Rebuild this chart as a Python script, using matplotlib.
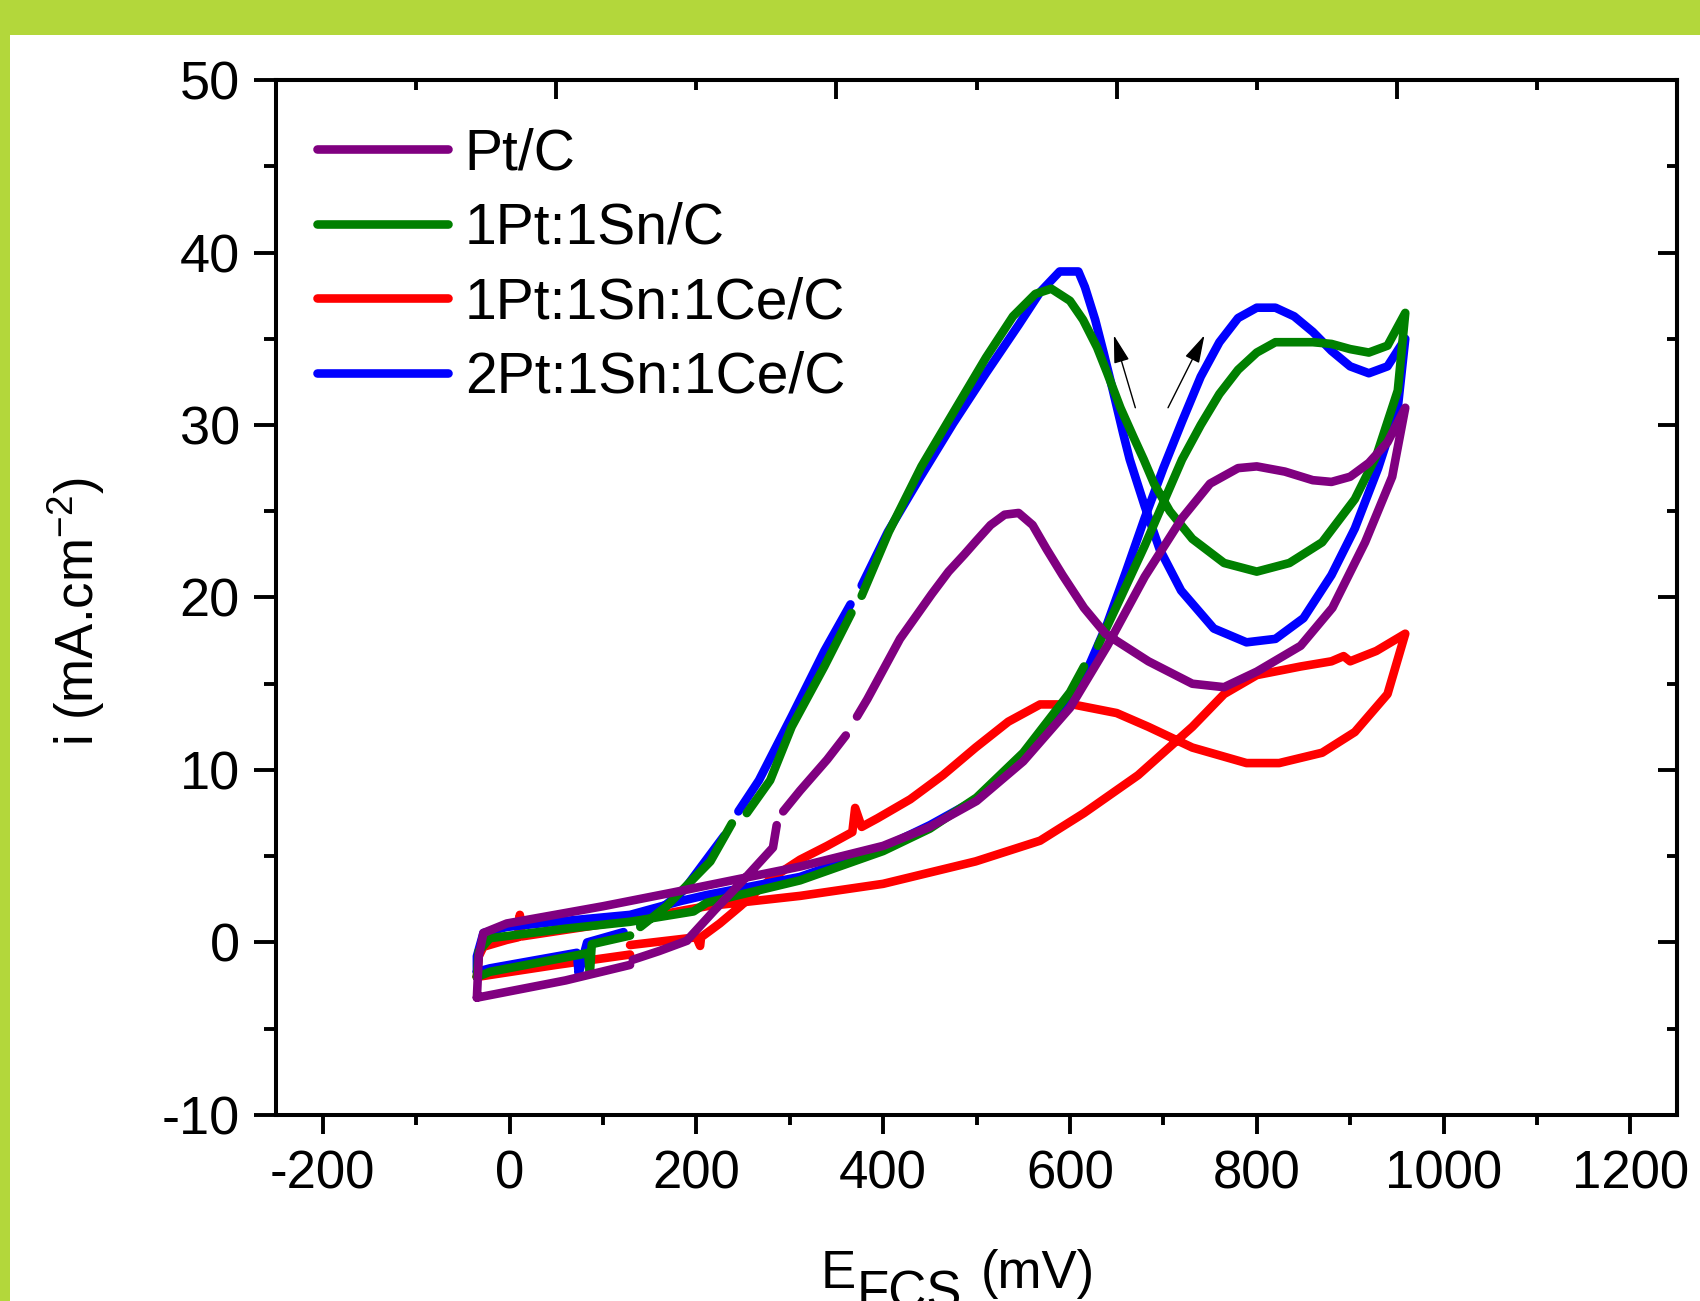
import numpy as np
import matplotlib.pyplot as plt
from matplotlib.ticker import MultipleLocator, FixedLocator, NullFormatter
from matplotlib.patches import Rectangle

plt.rcParams['font.family'] = ['Liberation Sans', 'DejaVu Sans']
plt.rcParams['mathtext.fontset'] = 'custom'
plt.rcParams['mathtext.rm'] = 'Liberation Sans'
plt.rcParams['mathtext.it'] = 'Liberation Sans:italic'
plt.rcParams['axes.unicode_minus'] = False

nan = np.nan

# cyclic voltammograms, E (mV) vs i (mA cm-2); nan = break in recorded trace
# Pt/C
pt_x = [-35, -33, -28, -3, 100, 175, 211, 311, 400, 450, 500, 550, 600, 640, 680, 720, 750,
        780, 800, 830, 860, 880, 900, 920, 940, 959,
        945, 916, 881, 847, 800, 765, 731, 684, 638, 615, 592, 575, 560, 545, 530, 515, 500, 487,
        470, 452, 418, 383, 372, nan, 360, 340, 311, 293, nan, 286, 282, 250, 220, 193, 190,
        160, 132, nan, 129, 60, -35]
pt_y = [-3.2, -0.8, 0.55, 1.1, 2.1, 2.9, 3.3, 4.4, 5.6, 6.7, 8.2, 10.5, 13.6, 17.2, 21.2, 24.6, 26.6,
        27.5, 27.6, 27.3, 26.8, 26.7, 27.0, 27.8, 29.0, 31.0,
        27.0, 23.2, 19.4, 17.2, 15.7, 14.8, 15.0, 16.3, 17.9, 19.4, 21.3, 22.8, 24.2, 24.9, 24.8, 24.2, 23.3, 22.5,
        21.5, 20.2, 17.6, 14.1, 13.1, nan, 12.0, 10.6, 8.8, 7.6, nan, 6.8, 5.5, 3.6, 1.9, 0.3, 0.1,
        -0.5, -1.0, nan, -1.3, -2.2, -3.2]

# 1Pt:1Sn/C
ptsn_x = [-35, -33, -21, 60, 129, 197, 211, 311, 400, 450, 500, 550, 600, 615, nan, 630, 650, 680,
          700, 720, 740, 760, 780, 800, 820, 860, 880, 900, 920, 940, 959,
          951, 928, 905, 870, 835, 800, 765, 731, 707, 690, 679, 668, 654, 640, 629, 614, 600, 580,
          563, 539, 510, 476, 441, 406, 377, nan, 366, 337, 302, 279, 254, nan, 238, 215, 168, 140,
          nan, 129, 88, 86, 84, 76, -21, -35]
ptsn_y = [-2.0, -0.5, 0.25, 0.8, 1.2, 1.8, 2.3, 3.6, 5.3, 6.6, 8.4, 11.0, 14.5, 16.0, nan, 17.2, 19.5, 23.0,
          25.5, 28.0, 30.0, 31.8, 33.2, 34.2, 34.8, 34.8, 34.7, 34.4, 34.2, 34.6, 36.5,
          32.0, 28.2, 25.7, 23.2, 22.0, 21.5, 22.0, 23.4, 25.0, 26.6, 28.0, 29.3, 31.0, 33.0, 34.5, 36.1, 37.2, 37.9,
          37.6, 36.3, 33.9, 30.8, 27.6, 23.8, 20.1, nan, 19.1, 16.0, 12.5, 9.4, 7.5, nan, 6.9, 4.7, 2.1, 0.9,
          nan, 0.4, -0.1, -1.8, -0.6, -0.7, -1.7, -2.0]

# 1Pt:1Sn:1Ce/C
ptsnce_x = [-35, -33, -28, -3, 9, 11, 13, 129, 211, 311, 400, 499, 568, 615, 673, 731, 765, 800,
            847, 880, 893, 900, 928, 959,
            940, 905, 870, 824, 789, 731, 684, 650, 603, 568, 534, 499, 464, 429, 394, 377, 370, 367,
            340, 311, 280, 247, 225, 205, 204, 200, 129, nan, 129, 50, -35]
ptsnce_y = [-2.0, -0.8, -0.25, 0.15, 0.3, 1.6, 0.35, 1.3, 2.1, 2.7, 3.4, 4.7, 5.9, 7.5, 9.7, 12.5, 14.4, 15.5,
            16.0, 16.3, 16.6, 16.3, 16.9, 17.9,
            14.4, 12.2, 11.0, 10.4, 10.4, 11.3, 12.5, 13.3, 13.8, 13.8, 12.8, 11.3, 9.7, 8.3, 7.2, 6.7, 7.8, 6.4,
            5.6, 4.8, 3.7, 2.1, 1.1, 0.3, -0.2, 0.3, -0.15, nan, -0.7, -1.3, -2.0]

# 2Pt:1Sn:1Ce/C
pt2_x = [-35, -35, -28, -3, 50, 129, 183, 211, 311, 400, 450, 500, 550, 580, 600, 620, 640, 660,
         680, 700, 720, 740, 760, 780, 800, 820, 840, 860, 880, 900, 920, 940, 959,
         951, 930, 905, 880, 850, 820, 789, 754, 719, 696, 680, 664, 657, 646, 636, 627, 616, 609,
         589, 568, 545, 510, 475, 440, 405, 377, nan, 365, 337, 302, 267, 245, nan, 230, 186, 140,
         nan, 122, 83, 74, 72, -21, -35]
pt2_y = [-1.7, -0.8, 0.55, 0.9, 1.2, 1.6, 2.4, 2.75, 3.8, 5.5, 6.8, 8.3, 10.8, 12.6, 14.0, 16.0, 18.5, 21.5,
         24.6, 27.5, 30.2, 32.8, 34.8, 36.2, 36.8, 36.8, 36.3, 35.4, 34.3, 33.4, 33.0, 33.4, 35.0,
         31.0, 27.5, 24.0, 21.3, 18.8, 17.6, 17.4, 18.2, 20.4, 22.8, 25.3, 28.0, 29.5, 32.0, 34.2, 36.1, 38.0, 38.9,
         38.9, 37.7, 35.8, 33.0, 30.1, 27.0, 23.8, 20.7, nan, 19.6, 16.9, 13.1, 9.4, 7.6, nan, 6.2, 3.0, 1.0,
         nan, 0.6, 0.0, -1.8, -0.6, -1.5, -1.7]

labels = ['Pt/C', '1Pt:1Sn/C', '1Pt:1Sn:1Ce/C', '2Pt:1Sn:1Ce/C']
colours = ['#800080', '#008000', '#ff0000', '#0000ff']

fig = plt.figure(figsize=(17, 13.01), dpi=100)
border = '#b3d73b'
fig.patches.append(Rectangle((0, 1 - 35 / 1301), 1, 35 / 1301, transform=fig.transFigure,
                             facecolor=border, edgecolor='none', zorder=0))
fig.patches.append(Rectangle((0, 0), 10 / 1700, 1, transform=fig.transFigure,
                             facecolor=border, edgecolor='none', zorder=0))

ax = fig.add_axes([0.1624, 0.143, 0.8241, 0.7955])

style = dict(lw=6.2, solid_capstyle='round', solid_joinstyle='round')
lr, = ax.plot(ptsnce_x, ptsnce_y, color=colours[2], zorder=2, **style)
lb, = ax.plot(pt2_x, pt2_y, color=colours[3], zorder=3, **style)
lg, = ax.plot(ptsn_x, ptsn_y, color=colours[1], zorder=4, **style)
lp, = ax.plot(pt_x, pt_y, color=colours[0], zorder=5, **style)

# scan direction arrows
arrow = dict(arrowstyle='-|>,head_length=0.43,head_width=0.12', mutation_scale=40,
             lw=1.0, color='black', shrinkA=0, shrinkB=0)
ax.annotate('', xy=(647, 35.2), xytext=(670, 31.0), arrowprops=arrow, zorder=6)
ax.annotate('', xy=(744, 35.2), xytext=(705, 31.0), arrowprops=arrow, zorder=6)

ax.set_xlim(-250, 1250)
ax.set_ylim(-10, 50)
ax.xaxis.set_major_locator(MultipleLocator(200))
ax.xaxis.set_minor_locator(MultipleLocator(100))
ax.yaxis.set_major_locator(MultipleLocator(10))
ax.yaxis.set_minor_locator(MultipleLocator(5))

for s in ax.spines.values():
    s.set_linewidth(2.9)
ax.tick_params(axis='x', which='major', direction='out', length=14, width=2.8, labelsize=38, pad=11)
ax.tick_params(axis='x', which='minor', direction='out', length=7, width=2.8)
ax.tick_params(axis='y', which='major', direction='out', length=16, width=2.8, labelsize=39, pad=10)
ax.tick_params(axis='y', which='minor', direction='out', length=9, width=2.8)
ax.tick_params(top=False, right=False, which='both')

# top and right axes carry inward ticks only
top = ax.secondary_xaxis('top')
top.xaxis.set_major_locator(FixedLocator([50, 350, 650, 950]))
top.xaxis.set_minor_locator(FixedLocator([-100, 200, 500, 800, 1100]))
top.xaxis.set_major_formatter(NullFormatter())
top.tick_params(which='major', direction='in', length=14, width=2.8)
top.tick_params(which='minor', direction='in', length=7, width=2.8)
top.spines['top'].set_linewidth(2.9)

right = ax.secondary_yaxis('right')
right.yaxis.set_major_locator(MultipleLocator(10))
right.yaxis.set_minor_locator(MultipleLocator(5))
right.yaxis.set_major_formatter(NullFormatter())
right.tick_params(which='major', direction='in', length=14, width=2.8)
right.tick_params(which='minor', direction='in', length=7, width=2.8)
right.spines['right'].set_linewidth(2.9)

# x label: E with a full-size, lowered "FCS" subscript, then (mV)
ax.text(0.389, -0.1671, 'E', transform=ax.transAxes, fontsize=38, va='baseline', ha='left')
ax.text(0.4147, -0.1874, 'FCS', transform=ax.transAxes, fontsize=38, va='baseline', ha='left')
ax.text(0.5032, -0.1671, '(mV)', transform=ax.transAxes, fontsize=38, va='baseline', ha='left')

ax.set_ylabel(r'i (mA.cm$^{\mathregular{-2}}$)', fontsize=38)
ax.yaxis.set_label_coords(-0.121, 0.486)

ax.legend(handles=[lp, lg, lr, lb], labels=labels, loc='upper left',
          bbox_to_anchor=(0.029, 0.9545), frameon=False, fontsize=41,
          handlelength=2.3, handletextpad=0.3, labelspacing=0.36,
          borderpad=0, borderaxespad=0)

fig.savefig('out.png', dpi=100)
